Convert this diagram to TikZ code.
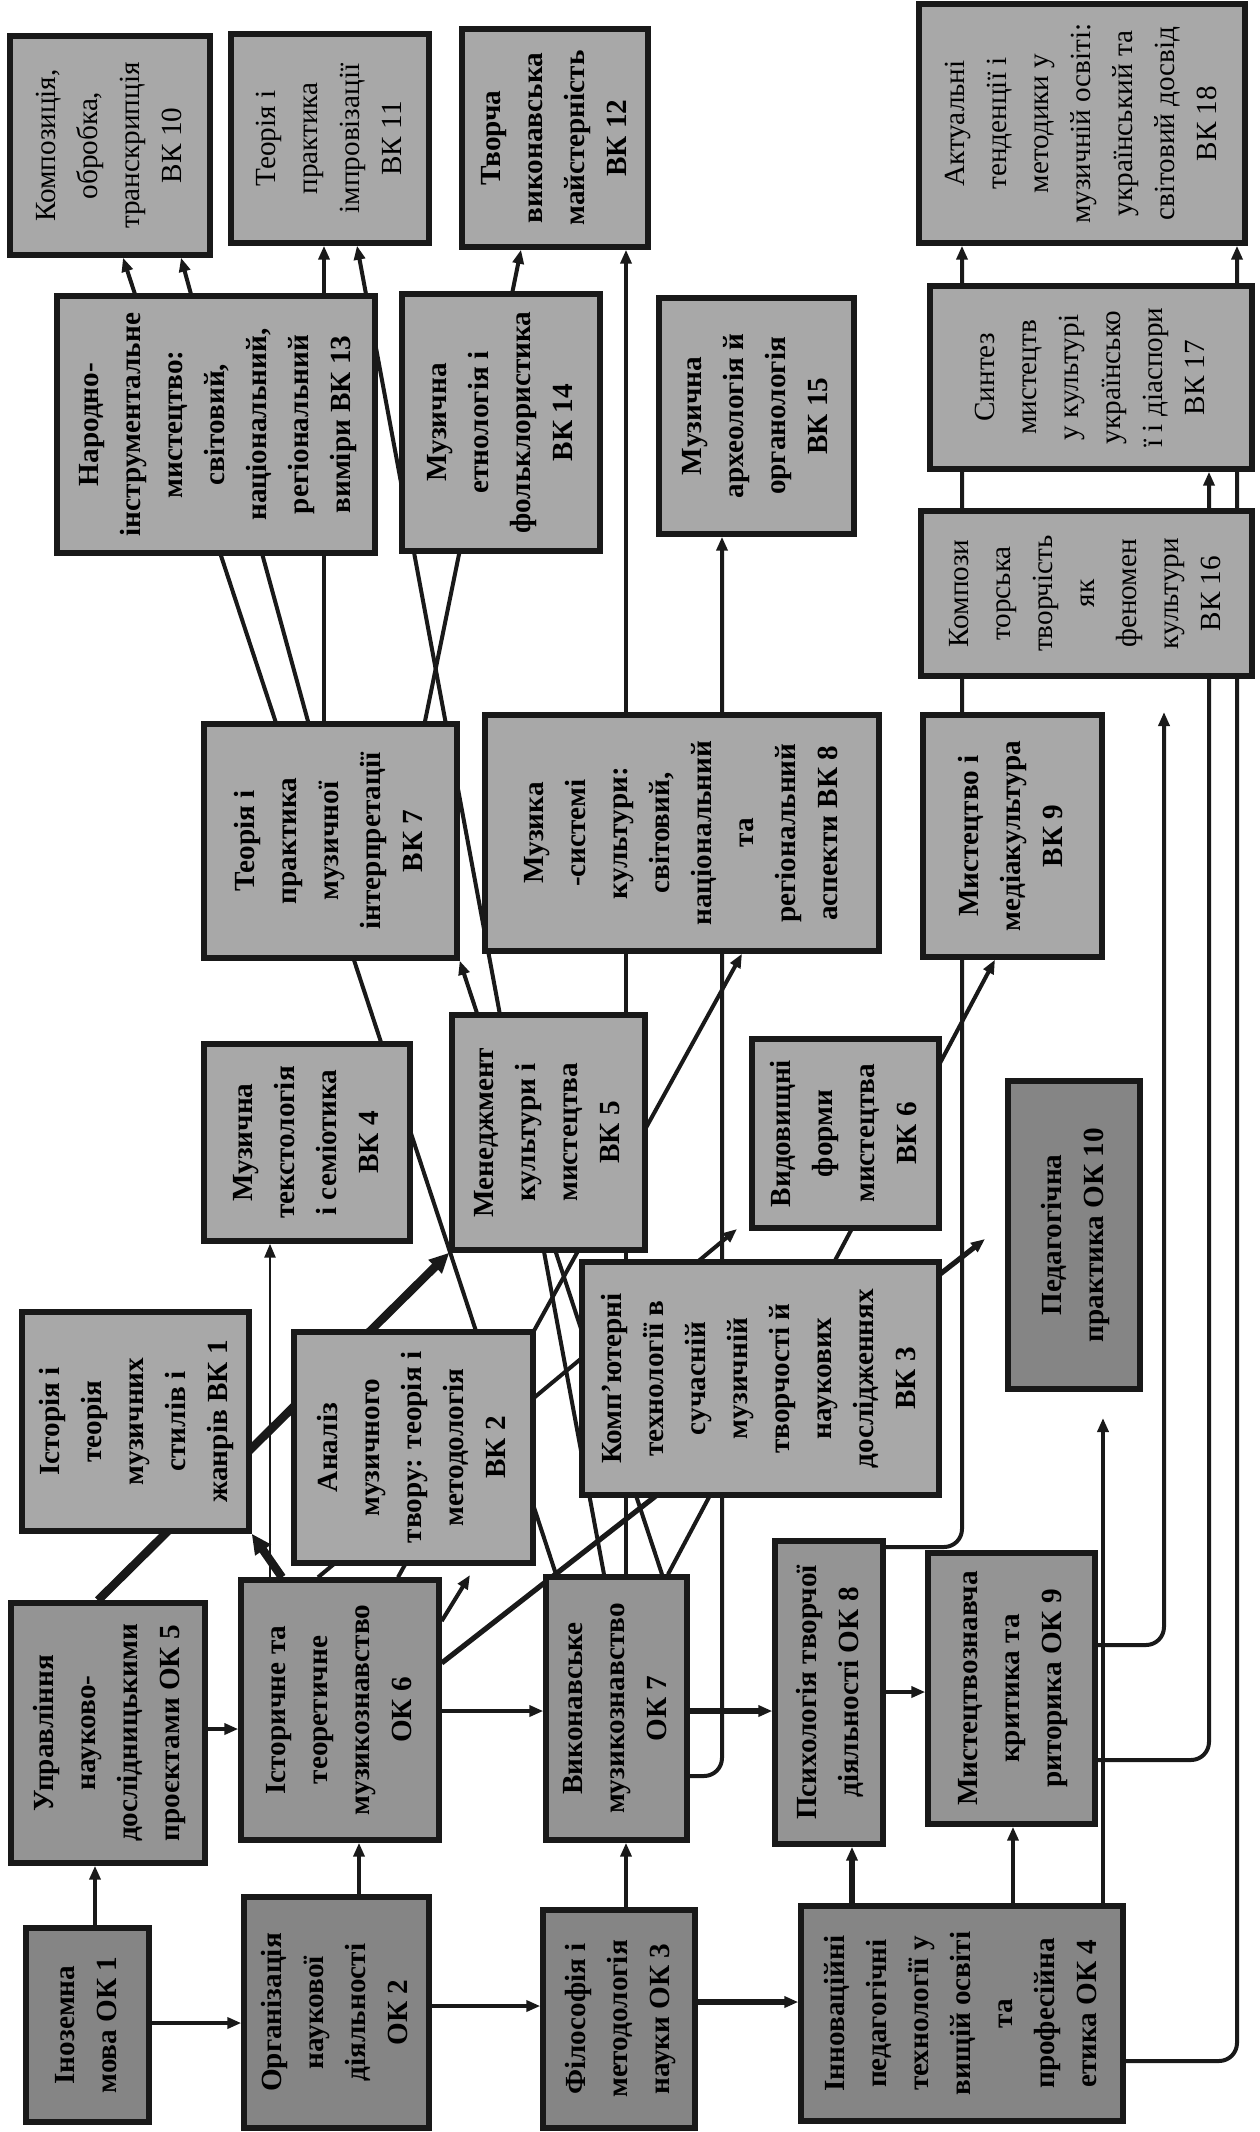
\documentclass[tikz,border=0pt]{standalone}
\usepackage{fontspec}
\setmainfont{Liberation Serif}
\usepackage{graphicx}
\usetikzlibrary{arrows.meta}
\pgfdeclarelayer{bg}
\pgfdeclarelayer{lines}
\pgfsetlayers{bg,lines,main}
\definecolor{vkfill}{gray}{0.66}
\definecolor{okfill}{gray}{0.58}
\definecolor{dkfill}{gray}{0.52}
\definecolor{ink}{gray}{0.1}
\newcommand{\boxfont}{\fontsize{14.6}{21}\selectfont}
\newcommand{\vt}[1]{\rotatebox{90}{\begin{tabular}{@{}c@{}}#1\end{tabular}}}
\begin{document}
\begin{tikzpicture}[x=0.5pt,y=-0.5pt,
  box/.style={draw=ink, line width=2.7pt, fill=vkfill, inner sep=0pt, font=\boxfont\bfseries},
  okbox/.style={box, fill=okfill},
  dkbox/.style={box, fill=dkfill},
  reg/.style={font=\boxfont},
  conn/.style={draw=ink, line width=2pt},
  arr/.style={conn, -{Triangle[length=7pt,width=5.5pt]}},
  heavy/.style={conn, line width=4.2pt, -{Triangle[length=10pt,width=9pt]}},
  bendline/.style={rounded corners=9pt}]
\useasboundingbox (0,0) rectangle (1259,2132);
\begin{pgfonlayer}{bg}
\fill[white] (0,0) rectangle (1259,2132);
\end{pgfonlayer}

% ---------- boxes ----------
\node[dkbox, minimum width=61.5pt, minimum height=97pt] (ok1) at (87.5,2025) {\vt{Іноземна\\мова ОК 1}};
\node[dkbox, minimum width=92.5pt, minimum height=115.5pt] (ok2) at (336.5,2012.5) {\vt{Організація\\наукової\\діяльності\\ОК 2}};
\node[dkbox, minimum width=76pt, minimum height=109pt] (ok3) at (619,2019) {\vt{Філософія і\\методологія\\науки ОК 3}};
\node[dkbox, minimum width=161pt, minimum height=107.5pt] (ok4) at (962,2013.5) {\vt{Інноваційні\\педагогічні\\технології у\\вищій освіті\\та\\професійна\\етика ОК 4}};
\node[okbox, minimum width=97pt, minimum height=130pt] (ok5) at (108,1733) {\vt{Управління\\науково-\\дослідницькими\\проєктами ОК 5}};
\node[okbox, minimum width=99pt, minimum height=130pt] (ok6) at (340,1710) {\vt{Історичне та\\теоретичне\\музикознавство\\ОК 6}};
\node[okbox, minimum width=70.5pt, minimum height=131.5pt] (ok7) at (616.5,1708.5) {\vt{Виконавське\\музикознавство\\ОК 7}};
\node[okbox, minimum width=54pt, minimum height=151.5pt] (ok8) at (829,1692.5) {\vt{Психологія творчої\\діяльності ОК 8}};
\node[okbox, minimum width=83.5pt, minimum height=135.5pt] (ok9) at (1011.5,1688.5) {\vt{Мистецтвознавча\\критика та\\риторика ОК 9}};
\node[dkbox, minimum width=66pt, minimum height=154pt] (ok10) at (1074,1235) {\vt{Педагогічна\\практика ОК 10}};

\node[box, minimum width=113.5pt, minimum height=109.5pt] (vk1) at (135.5,1421.5) {\vt{Історія і\\теорія\\музичних\\стилів і\\жанрів ВК 1}};
\node[box, minimum width=119.5pt, minimum height=115.5pt] (vk2) at (413.5,1447.5) {\vt{Аналіз\\музичного\\твору: теорія і\\методологія\\ВК 2}};
\node[box, minimum width=178.5pt, minimum height=116.5pt] (vk3) at (760.5,1378.5) {\vt{Комп’ютерні\\технології в\\сучасній\\музичній\\творчості й\\наукових\\дослідженнях\\ВК 3}};
\node[box, minimum width=103pt, minimum height=98.5pt] (vk4) at (307,1142.5) {\vt{Музична\\текстологія\\і семіотика\\ВК 4}};
\node[box, minimum width=96.5pt, minimum height=117.5pt] (vk5) at (548.5,1132.5) {\vt{Менеджмент\\культури і\\мистецтва\\ВК 5}};
\node[box, minimum width=93.5pt, minimum height=94.5pt] (vk6) at (845.5,1133.5) {\vt{Видовищні\\форми\\мистецтва\\ВК 6}};
\node[box, minimum width=126.5pt, minimum height=117pt] (vk7) at (330.5,841) {\vt{Теорія і\\практика\\музичної\\інтерпретації\\ВК 7}};
\node[box, minimum width=197pt, minimum height=118pt] (vk8) at (682,833) {\vt{Музика\\-системі\\культури:\\світовий,\\національний\\та\\регіональний\\аспекти ВК 8}};
\node[box, minimum width=89.5pt, minimum height=121pt] (vk9) at (1012.5,836) {\vt{Мистецтво і\\медіакультура\\ВК 9}};
\node[box, minimum width=159pt, minimum height=128.5pt] (vk13) at (216,424.5) {\vt{Народно-\\інструментальне\\мистецтво:\\світовий,\\національний,\\регіональний\\виміри ВК 13}};
\node[box, minimum width=99pt, minimum height=128.5pt] (vk14) at (501,422.5) {\vt{Музична\\етнологія і\\фольклористика\\ВК 14}};
\node[box, minimum width=97.5pt, minimum height=118pt] (vk15) at (756.5,416) {\vt{Музична\\археологія й\\органологія\\ВК 15}};
\node[box, reg, minimum width=165.5pt, minimum height=82.5pt] (vk16) at (1086.5,593.5) {\vt{Компози\\торська\\творчість\\як\\феномен\\культури\\ВК 16}};
\node[box, reg, minimum width=161pt, minimum height=91.5pt] (vk17) at (1091,377.5) {\vt{Синтез\\мистецтв\\у культурі\\українсько\\ї і діаспори\\ВК 17}};
\node[box, reg, minimum width=100pt, minimum height=109.5pt] (vk10) at (110,145.5) {\vt{Композиція,\\обробка,\\транскрипція\\ВК 10}};
\node[box, reg, minimum width=99pt, minimum height=104.5pt] (vk11) at (330,138.5) {\vt{Теорія і\\практика\\імпровізації\\ВК 11}};
\node[box, minimum width=93pt, minimum height=109pt] (vk12) at (555,138) {\vt{Творча\\виконавська\\майстерність\\ВК 12}};
\node[box, reg, minimum width=163pt, minimum height=119.5pt] (vk18) at (1082,123.5) {\vt{Актуальні\\тенденції і\\методики у\\музичній освіті:\\український та\\світовий досвід\\ВК 18}};

% ---------- free ends ----------
\coordinate (aEnd) at (737,1229);
\coordinate (qEnd) at (985,1239);
\coordinate (sEnd) at (470,1575);
\coordinate (tEnd) at (1103,1418);
\coordinate (uEnd) at (1164,712);

% ---------- connectors ----------
\begin{pgfonlayer}{lines}
% bottom row
\draw[arr] (ok1.east |- 0,2023) -- (ok2.west |- 0,2023);
\draw[arr] (ok2.east |- 0,2006) -- (ok3.west |- 0,2006);
\draw[arr, line width=3.2pt] (ok3.east |- 0,2002) -- (ok4.west |- 0,2002);
\draw[arr] (ok1.north -| 95,0) -- (ok5.south -| 95,0);
\draw[arr] (ok2.north -| 359,0) -- (ok6.south -| 359,0);
\draw[arr] (ok3.north -| 626,0) -- (ok7.south -| 626,0);
\draw[arr, line width=2.6pt] (ok4.north -| 852,0) -- (ok8.south -| 852,0);
\draw[arr] (ok4.north -| 1013,0) -- (ok9.south -| 1013,0);
% second row
\draw[arr] (ok5.east |- 0,1729) -- (ok6.west |- 0,1729);
\draw[arr] (ok6.east |- 0,1711) -- (ok7.west |- 0,1711);
\draw[arr, line width=2.8pt] (ok7.east |- 0,1711) -- (ok8.west |- 0,1711);
\draw[arr] (ok8.east |- 0,1692) -- (ok9.west |- 0,1692);
% from OK 5 and OK 6
\draw[heavy] (ok5.north -| 98,0) -- (vk5.south west);
\draw[heavy] (ok6.north -| 282,0) -- (vk1.south east);
\draw[arr, line width=1.3pt] (ok6.north -| 270,0) -- (vk4.south -| 270,0);
\draw[arr] (ok6.north -| 318,0) -- (aEnd);
\draw[arr] (ok6.north -| 398,0) -- (vk8.south -| 742,0);
\draw[arr, line width=2.6pt] (ok6.east |- 0,1663) -- (qEnd);
\draw[arr] (ok6.east |- 0,1621) -- (sEnd);
% from OK 7
\draw[arr] (ok7.north -| 556,0) -- (vk10.south -| 123,0);
\draw[arr] (ok7.north -| 604,0) -- (vk11.south -| 357,0);
\draw[arr] (ok7.north -| 626,0) -- (vk12.south -| 626,0);
\draw[arr] (ok7.north -| 662,0) -- (vk7.south east);
\draw[arr] (ok7.north -| 668,0) -- (vk9.south -| 995,0);
\draw[arr, bendline] (ok7.east |- 0,1776) -- (722,1776) -- (vk15.south -| 722,0);
% from VK 7
\draw[arr] (vk7.north -| 308,0) -- (vk10.south -| 181,0);
\draw[arr] (vk7.north -| 324,0) -- (vk11.south -| 324,0);
\draw[arr] (vk7.north -| 425,0) -- (vk12.south -| 521,0);
% right side
\draw[arr, bendline] (ok8.east |- 0,1547) -- (962,1547) -- (vk18.south -| 962,0);
\draw[arr] (ok4.north -| 1103,0) -- (tEnd);
\draw[arr, bendline] (ok9.east |- 0,1645) -- (1164,1645) -- (uEnd);
\draw[arr, bendline] (ok9.east |- 0,1760) -- (1209,1760) -- (vk17.south -| 1209,0);
\draw[arr, bendline] (ok4.east |- 0,2061) -- (1237,2061) -- (vk18.south -| 1237,0);
\end{pgfonlayer}
\end{tikzpicture}
\end{document}
